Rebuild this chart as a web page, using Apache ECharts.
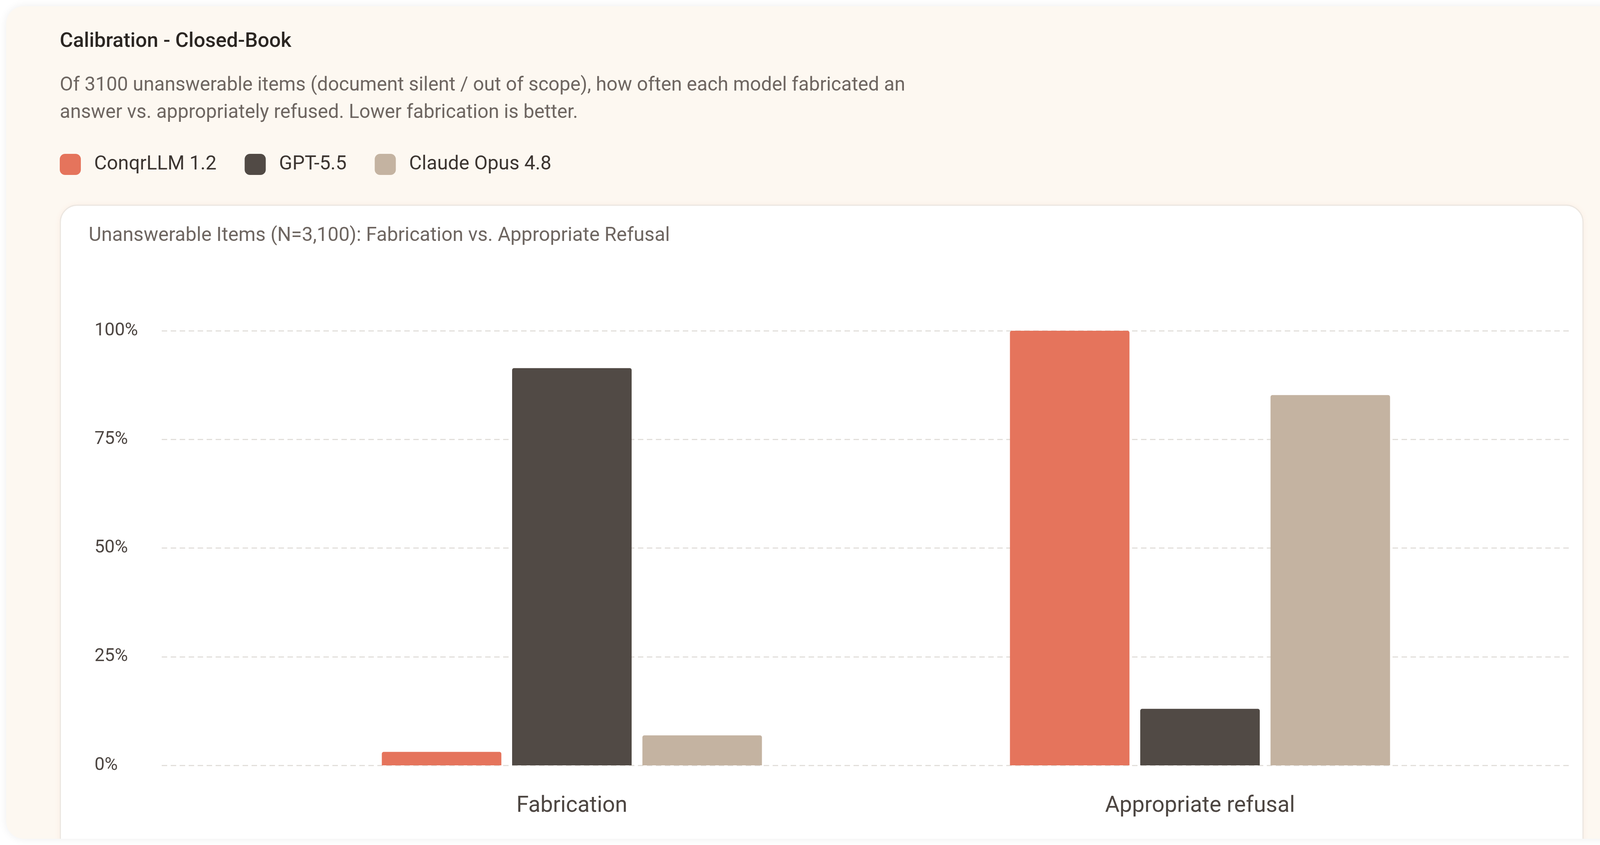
<!DOCTYPE html>
<html>
<head>
<meta charset="utf-8">
<title>Calibration - Closed-Book</title>
<script src="https://cdn.jsdelivr.net/npm/echarts@6.0.0/dist/echarts.min.js"></script>
<style>
  html, body { margin: 0; padding: 0; background: #ffffff; }
  body { width: 4208px; height: 2164px; position: relative; overflow: hidden; font-family: Roboto, "Noto Sans", sans-serif; }
  .card {
    position: absolute; left: 16px; top: 16px; width: 4176px; height: 2132px;
    background: #fdf8f1; border-radius: 45px; overflow: hidden;
    box-shadow: 0 0 22px rgba(0, 0, 0, 0.07);
  }
  .inner {
    position: absolute; left: 137px; top: 508px; width: 3901px; height: 1800px;
    background: #ffffff; border: 3px solid #ece7e1; border-radius: 45px; box-sizing: border-box;
    box-shadow: 0 0 14px rgba(229, 116, 92, 0.08);
  }
  #chart { position: absolute; left: 0; top: 0; width: 4208px; height: 2164px; }
</style>
</head>
<body>
<div class="card"><div class="inner"></div></div>
<div id="chart"></div>
<script>
// categories and series values (percent of 3100 unanswerable items)
const categories = ['Fabrication', 'Appropriate refusal'];
const modelNames = ['ConqrLLM 1.2', 'GPT-5.5', 'Claude Opus 4.8'];
const conqrValues = [3.1, 100];
const gptValues = [91.4, 13.0];
const claudeValues = [6.9, 85.2];
const modelColors = ['#e5745c', '#514a45', '#c4b3a1'];

const chart = echarts.init(document.getElementById('chart'), null, { renderer: 'canvas' });

const font = 'Roboto, "Noto Sans", sans-serif';
const seriesValues = [conqrValues, gptValues, claudeValues];

const option = {
  backgroundColor: 'transparent',
  animation: false,
  textStyle: { fontFamily: font },
  title: [
    {
      text: 'Calibration - Closed-Book',
      left: 153, top: 79, padding: 0,
      textStyle: { fontSize: 52, fontWeight: 500, color: '#2b2622', lineHeight: 56, fontFamily: font }
    },
    {
      text: 'Of 3100 unanswerable items (document silent / out of scope), how often each model fabricated an\nanswer vs. appropriately refused. Lower fabrication is better.',
      left: 153, top: 185, padding: 0,
      textStyle: { fontSize: 49.5, fontWeight: 400, color: '#6e6661', lineHeight: 70, fontFamily: font }
    },
    {
      text: 'Unanswerable Items (N=3,100): Fabrication vs. Appropriate Refusal',
      left: 227, top: 576, padding: 0,
      textStyle: { fontSize: 50, fontWeight: 400, color: '#6e6661', lineHeight: 56, fontFamily: font }
    }
  ],
  legend: {
    left: 153, top: 394, padding: 0,
    itemWidth: 54, itemHeight: 54, itemGap: 72,
    icon: 'roundRect',
    data: modelNames,
    textStyle: { fontSize: 50, color: '#3c3531', lineHeight: 54, padding: [0, 0, 0, 29], fontFamily: font }
  },
  grid: [
    // grid for the y-axis labels and dashed gridlines
    { left: 414, right: 190, top: 847, bottom: 204 },
    // grid for the bars
    { left: 660, right: 332, top: 847, bottom: 204 }
  ],
  xAxis: [
    { type: 'category', gridIndex: 0, data: categories, show: false },
    {
      type: 'category', gridIndex: 1, data: categories,
      axisLine: { show: false }, axisTick: { show: false },
      axisLabel: { fontSize: 57, color: '#4d4642', margin: 76, fontFamily: font }
    }
  ],
  yAxis: [
    {
      type: 'value', gridIndex: 0, min: 0, max: 100, interval: 25,
      axisLine: { show: false }, axisTick: { show: false },
      axisLabel: { formatter: '{value}%', fontSize: 46, color: '#4d4642', align: 'left', margin: 172, fontFamily: font },
      splitLine: { show: true, lineStyle: { color: '#e2dfdb', width: 3, type: [14, 9] } }
    },
    { type: 'value', gridIndex: 1, min: 0, max: 100, interval: 25, show: false, splitLine: { show: false } }
  ],
  series: modelNames.map((name, i) => ({
    name: name,
    type: 'bar',
    xAxisIndex: 1,
    yAxisIndex: 1,
    data: seriesValues[i],
    barWidth: 306,
    barGap: '9%',
    itemStyle: { color: modelColors[i], borderRadius: [5, 5, 0, 0] }
  }))
};

chart.setOption(option);
</script>
</body>
</html>
